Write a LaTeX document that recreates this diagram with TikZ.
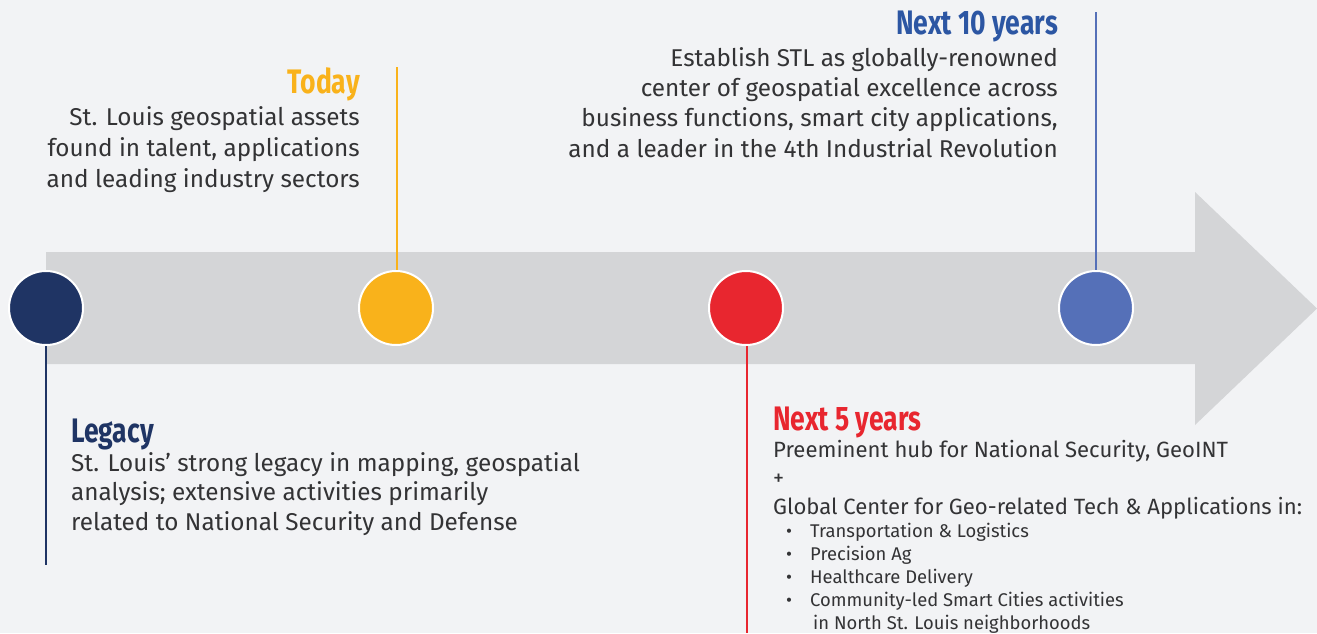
\documentclass[tikz,border=0pt]{standalone}
\usepackage{fontspec}
\setmainfont{Fira Sans}
\newfontfamily\headfont[FakeStretch=0.78]{Fira Sans}
\usetikzlibrary{positioning}

\definecolor{bg}{HTML}{F2F3F5}
\definecolor{shaft}{HTML}{D4D5D7}
\definecolor{txt}{HTML}{333335}
\definecolor{navy}{HTML}{1F3464}
\definecolor{gold}{HTML}{F9B21B}
\definecolor{crimson}{HTML}{E8262F}
\definecolor{slate}{HTML}{5570B8}
\definecolor{royal}{HTML}{2C56A3}

\newcommand{\bul}{\makebox[24pt][l]{\textbullet}}

\begin{document}
\begin{tikzpicture}[x=1pt,y=-1pt,
  dot/.style={circle,draw=white,line width=2pt,minimum size=74pt,inner sep=0pt},
  stem/.style={line width=2pt},
  head/.style={font=\headfont\bfseries\fontsize{34}{34}\selectfont,inner sep=0pt},
  body/.style={font=\fontsize{24.3}{31}\selectfont,text=txt,inner sep=0pt},
  small/.style={font=\fontsize{18.4}{23}\selectfont,text=txt,inner sep=0pt}]
\useasboundingbox (0,0) rectangle (1317,633);
\fill [bg] (0,0) rectangle (1317,633);
% timeline arrow
\fill [shaft] (46,252) -- (1195,252) -- (1195,192) -- (1317,308.5)
  -- (1195,425) -- (1195,364) -- (46,364) -- cycle;
% stems
\coordinate (legacyend) at (46,565);
\coordinate (todaytop) at (397,67);
\coordinate (fiveend) at (747,633);
\coordinate (tentop) at (1096,12);
\draw [stem,navy] (46,308) -- (legacyend);
\draw [stem,gold] (todaytop) -- (397,308);
\draw [stem,crimson] (747,308) -- (fiveend);
\draw [stem,slate] (tentop) -- (1096,308);
% milestones
\node [dot,fill=navy] (legacy) at (46,308) {};
\node [dot,fill=gold] (today) at (396,308) {};
\node [dot,fill=crimson] (five) at (746,308) {};
\node [dot,fill=slate] (ten) at (1096,308) {};
% texts (base = last line)
\node [head,text=gold,anchor=base east] (todayhead) at (360,93) {Today};
\node [body,align=right,anchor=base east] (todaytext) at (360,187)
  {St. Louis geospatial assets\\found in talent, applications\\and leading industry sectors};
\node [head,text=royal,anchor=base east] (tenhead) at (1058,34) {Next 10 years};
\node [body,align=right,anchor=base east,font=\fontsize{24.3}{30.3}\selectfont] (tentext) at (1058,157)
  {Establish STL as globally-renowned\\center of geospatial excellence across\\business functions, smart city applications,\\and a leader in the 4th Industrial Revolution};
\node [head,text=navy,anchor=base west] (legacyhead) at (71,442) {Legacy};
\node [body,align=left,anchor=base west,font=\fontsize{24.3}{29.5}\selectfont] (legacytext) at (71,530)
  {St. Louis' strong legacy in mapping, geospatial\\analysis; extensive activities primarily\\related to National Security and Defense};
\node [head,text=crimson,anchor=base west] (fivehead) at (773,430) {Next 5 years};
\node [body,align=left,anchor=base west,font=\fontsize{22.1}{28.5}\selectfont] (fivetext) at (773,514)
  {Preeminent hub for National Security, GeoINT\\+\\Global Center for Geo-related Tech \& Applications in:};
\node [small,align=left,anchor=base west] (fivelist) at (786,629)
  {\bul Transportation \& Logistics\\\bul Precision Ag\\\bul Healthcare Delivery\\\bul Community-led Smart Cities activities\\\hspace{27pt}in North St. Louis neighborhoods};
\end{tikzpicture}
\end{document}
